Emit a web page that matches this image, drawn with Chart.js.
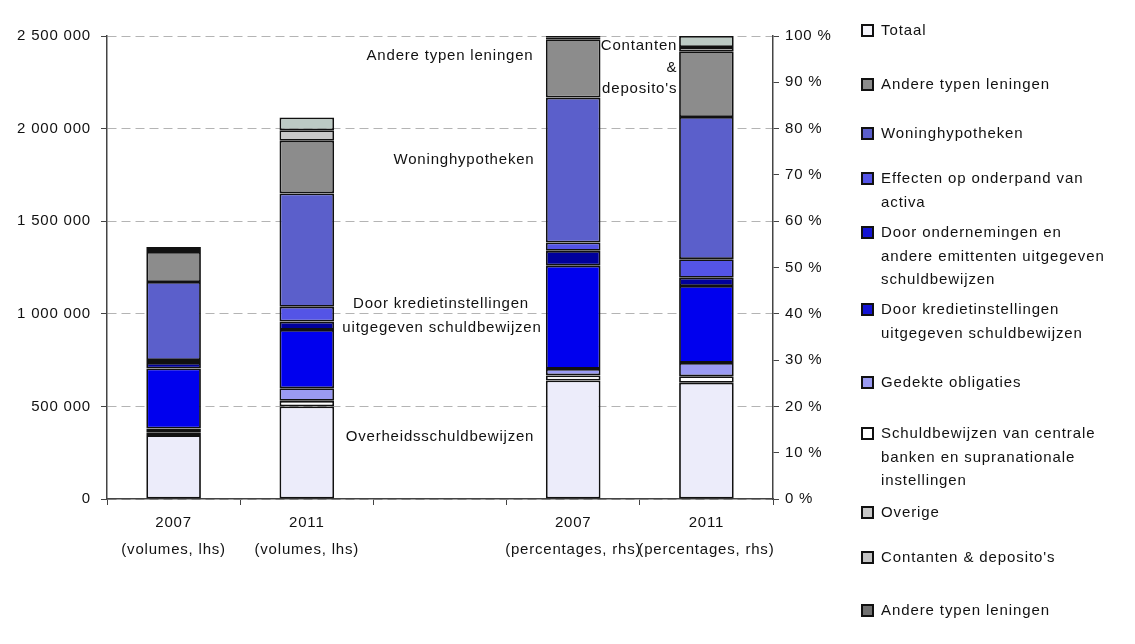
<!DOCTYPE html>
<html>
<head>
<meta charset="utf-8">
<script src="https://cdn.jsdelivr.net/npm/chart.js@4.4.1/dist/chart.umd.min.js"></script>
<style>
  body { margin: 0; background: #fff; }
  #wrap { position: relative; width: 1135px; height: 644px; }
  #chart { position: absolute; left: 0; top: 0; }
  #legend { position: absolute; left: 0; top: 0; width: 1135px; height: 644px; font: 15px 'Liberation Sans', Arial, sans-serif; letter-spacing: 0.9px; color: #111; }
  .item { position: absolute; left: 881px; line-height: 23.5px; white-space: pre; }
  .box { position: absolute; left: -20px; top: 6px; width: 9px; height: 9px; border: 2px solid #111; }
</style>
</head>
<body>
<div id="wrap">
  <canvas id="chart" width="1135" height="644"></canvas>
  <div id="legend"></div>
</div>
<script>
const categories = [['2007', '(volumes, lhs)'], ['2011', '(volumes, lhs)'], '', ['2007', '(percentages, rhs)'], ['2011', '(percentages, rhs)']]

const seriesNames = ['Overheidsschuldbewijzen', 'Schuldbewijzen van centrale banken en supranationale instellingen', 'Gedekte obligaties',
  'Door kredietinstellingen uitgegeven schuldbewijzen', 'Door ondernemingen en andere emittenten uitgegeven schuldbewijzen',
  'Effecten op onderpand van activa', 'Woninghypotheken', 'Andere typen leningen', 'Overige', "Contanten & deposito's"]

// volumes (lhs), same order as seriesNames
const vol2007 = [345000, 15000, 20000, 325000, 30000, 15000, 422000, 162000, 10000, 17000]
const vol2011 = [500000, 30000, 68000, 315000, 45000, 80000, 612000, 284000, 57000, 69000]
// percentages (rhs)
const pct2007 = [25.6, 1.1, 1.4, 22.3, 3.2, 1.8, 31.3, 12.6, 0.3, 0.4]
const pct2011 = [25.1, 1.4, 2.9, 16.6, 1.8, 4.0, 30.7, 14.2, 0.9, 2.4]

const volTicks = [0, 500000, 1000000, 1500000, 2000000, 2500000]

const legendLabels = ['Totaal', 'Andere typen leningen', 'Woninghypotheken', 'Effecten op onderpand van\nactiva',
  'Door ondernemingen en\nandere emittenten uitgegeven\nschuldbewijzen', 'Door kredietinstellingen\nuitgegeven schuldbewijzen',
  'Gedekte obligaties', 'Schuldbewijzen van centrale\nbanken en supranationale\ninstellingen', 'Overige',
  "Contanten & deposito's", 'Andere typen leningen']

const colors = ['#ececfa', '#ffffff', '#9a9af2', '#0000ee', '#00009c', '#5454e6', '#5b5fcb', '#8c8c8c', '#c8c8c8', '#bccac4']
const legendColors = ['#f6f6fc', '#8c8c8c', '#5b5fcb', '#5454e6', '#1414d4', '#1414d4', '#9a9af2', '#ffffff', '#c8c8c8', '#c4c4c4', '#707070']
const legendTops = [18, 72, 121, 166, 220, 297, 370, 421, 500, 545, 598]

const fontFamily = "'Liberation Sans', Arial, sans-serif"

// text labels inside the chart: x = category index + pixel shift, y = % on right axis
const notes = [
  { text: 'Andere typen leningen', x: 2, dx: 10, y: 95.7, align: 'center' },
  { text: 'Woninghypotheken', x: 2, dx: 24, y: 73.2, align: 'center' },
  { text: 'Door kredietinstellingen', x: 2, dx: 1, y: 42.1, align: 'center' },
  { text: 'uitgegeven schuldbewijzen', x: 2, dx: 2, y: 36.9, align: 'center' },
  { text: 'Overheidsschuldbewijzen', x: 2, dx: 0, y: 13.4, align: 'center' },
  { text: 'Contanten', x: 3, dx: 104, y: 97.8, align: 'right' },
  { text: '&', x: 3, dx: 104, y: 93.1, align: 'right' },
  { text: "deposito's", x: 3, dx: 104, y: 88.6, align: 'right' }
]

function spaced(v) {
  return String(v).replace(/\B(?=(\d{3})+(?!\d))/g, ' ')
}

var datasets = []
for (var i = 0; i < seriesNames.length; i++) {
  datasets.push({
    label: seriesNames[i],
    data: [vol2007[i], vol2011[i], null, null, null],
    yAxisID: 'y', stack: 'all',
    backgroundColor: colors[i]
  })
  datasets.push({
    label: seriesNames[i],
    data: [null, null, null, pct2007[i], pct2011[i]],
    yAxisID: 'y1', stack: 'all',
    backgroundColor: colors[i]
  })
}

const letterSpacing = {
  id: 'letterSpacing',
  beforeLayout(chart) { chart.ctx.letterSpacing = '0.8px' },
  beforeDraw(chart) { chart.ctx.letterSpacing = '0.8px' }
}

const notesPlugin = {
  id: 'notes',
  afterDatasetsDraw(chart) {
    const ctx = chart.ctx
    const xs = chart.scales.x, ys = chart.scales.y1
    ctx.save()
    ctx.font = '15px ' + fontFamily
    ctx.fillStyle = '#111'
    ctx.textBaseline = 'middle'
    notes.forEach(function (n) {
      ctx.textAlign = n.align
      ctx.fillText(n.text, xs.getPixelForValue(n.x) + n.dx, ys.getPixelForValue(n.y))
    })
    ctx.restore()
  }
}

Chart.defaults.font.family = fontFamily
Chart.defaults.font.size = 15
Chart.defaults.color = '#111'

new Chart(document.getElementById('chart'), {
  type: 'bar',
  data: { labels: categories, datasets: datasets },
  options: {
    responsive: false,
    animation: false,
    categoryPercentage: 1,
    barPercentage: 0.41,
    borderColor: '#111',
    borderWidth: 1.8,
    borderSkipped: false,
    layout: { padding: { left: 0, right: 292, top: 36, bottom: 45 } },
    plugins: { legend: { display: false }, tooltip: { enabled: false } },
    scales: {
      x: {
        stacked: true,
        afterFit: function (s) { s.height = 100 },
        grid: { drawOnChartArea: false, tickLength: 6, tickColor: '#444' },
        border: { color: '#444', width: 1.5 },
        ticks: { padding: 5, font: { lineHeight: 1.75 }, maxRotation: 0, autoSkip: false }
      },
      y: {
        stacked: true,
        min: 0, max: 2500000,
        afterFit: function (s) { s.width = 107 },
        afterBuildTicks: function (s) { s.ticks = volTicks.map(function (v) { return { value: v } }) },
        grid: { color: '#b4b4b4', tickLength: 6, tickColor: '#444' },
        border: { color: '#444', width: 1.5, dash: [9, 5] },
        ticks: { padding: 10, callback: function (v) { return spaced(v) } }
      },
      y1: {
        position: 'right',
        stacked: true,
        min: 0, max: 100,
        afterFit: function (s) { s.width = 70 },
        grid: { drawOnChartArea: false, tickLength: 6, tickColor: '#444' },
        border: { color: '#444', width: 1.5 },
        ticks: { stepSize: 10, padding: 6, callback: function (v) { return v + ' %' } }
      }
    }
  },
  plugins: [letterSpacing, notesPlugin]
})

// legend on the right
var legend = document.getElementById('legend')
legendLabels.forEach(function (txt, k) {
  var d = document.createElement('div')
  d.className = 'item'
  d.style.top = legendTops[k] + 'px'
  d.textContent = txt
  var b = document.createElement('span')
  b.className = 'box'
  b.style.background = legendColors[k]
  d.appendChild(b)
  legend.appendChild(d)
})
</script>
</body>
</html>
